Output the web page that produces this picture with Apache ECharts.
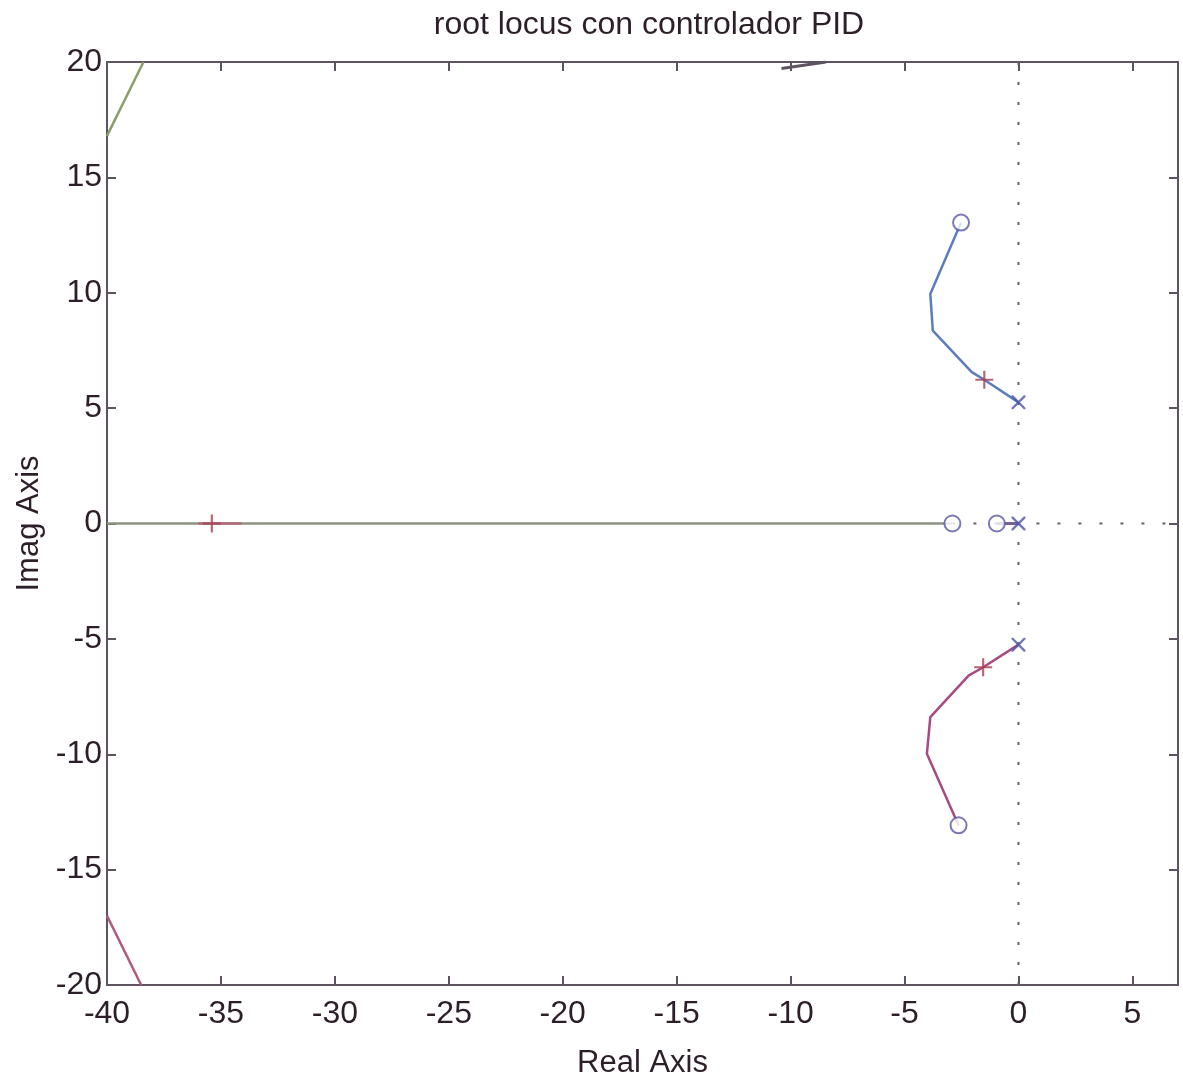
<!DOCTYPE html>
<html><head><meta charset="utf-8">
<script src="https://cdn.jsdelivr.net/npm/echarts@6/dist/echarts.min.js"></script>
<style>html,body{margin:0;padding:0;background:#fff}#c{width:1183px;height:1086px}</style>
</head><body><div id="c"></div>
<script>
// Data
const xTicks = [-40, -35, -30, -25, -20, -15, -10, -5, 0, 5];
const yTicks = [-20, -15, -10, -5, 0, 5, 10, 15, 20];
const upperBranch = [[0, 5.25], [-1.5, 6.23], [-2.05, 6.56], [-3.76, 8.36], [-3.87, 9.95], [-2.52, 13.04]];
const lowerBranch = [[0, -5.25], [-1.55, -6.23], [-2.19, -6.59], [-3.87, -8.39], [-4.02, -9.98], [-2.63, -13.08]];
const realBranchLeft = [[-40, 0], [-2.9, 0]];
const realBranchRedPart = [[-36.0, 0], [-34.1, 0]];
const realBranchRight = [[-0.95, 0], [0, 0]];
const greenFarBranch = [[-40, 16.8], [-38.4, 20]];
const pinkFarBranch = [[-40, -17.0], [-38.5, -20]];
const topEdgeBranch = [[-10.4, 19.72], [-8.45, 20]];
const zerosPts = [[-2.52, 13.04], [-2.63, -13.08], [-2.9, 0], [-0.95, 0]];
const polesPts = [[0, 5.25], [0, -5.25], [0, 0]];
const closedLoopPts = [[-1.5, 6.23], [-1.55, -6.23], [-35.4, 0]];
const vDotted = [[0, -20], [0, 20]];
const hDotted = [[-2.9, 0], [7, 0]];

const FONT = 'Liberation Sans, Arial, sans-serif';
const TXT = '#2d1f2a';
const AX = '#5e5360';
const xPath = 'path://M0,0 L1.2,0 L10,8.8 L10,10 L8.8,10 L0,1.2 Z M10,0 L10,1.2 L1.2,10 L0,10 L0,8.8 L8.8,0 Z';
const plusPath = 'path://M4.4,0 H5.6 V4.4 H10 V5.6 H5.6 V10 H4.4 V5.6 H0 V4.4 H4.4 Z';

const chart = echarts.init(document.getElementById('c'), null, {renderer: 'canvas'});
const axisCommon = {
  type: 'value', splitLine: {show: false},
  axisLine: {show: true, onZero: false, lineStyle: {color: AX, width: 2}},
  axisTick: {show: true, inside: true, length: 9, lineStyle: {color: AX, width: 2}}
};
function line(data, color, width, z, type) {
  return {type: 'line', data: data, symbol: 'none', z: z || 3, silent: true, clip: true,
    lineStyle: {color: color, width: width || 2, type: type || 'solid'}};
}
chart.setOption({
  animation: false,
  backgroundColor: '#ffffff',
  title: {text: 'root locus con controlador PID', left: 644, textAlign: 'center', top: 4,
    textStyle: {fontFamily: FONT, fontSize: 32, fontWeight: 'normal', color: TXT}},
  grid: {left: 107, right: 5, top: 62, bottom: 101, outerBoundsMode: 'none', containLabel: false},
  xAxis: [
    Object.assign({}, axisCommon, {min: -40, max: 7, interval: 5, position: 'bottom',
      name: 'Real Axis', nameLocation: 'middle', nameGap: 63,
      nameTextStyle: {fontFamily: FONT, fontSize: 31, color: TXT},
      axisLabel: {showMaxLabel: false, margin: 13, fontFamily: FONT, fontSize: 32, color: TXT,
        formatter: v => xTicks.includes(v) ? String(v) : ''}}),
    Object.assign({}, axisCommon, {min: -40, max: 7, interval: 5, position: 'top',
      axisLabel: {show: false}})
  ],
  yAxis: [
    Object.assign({}, axisCommon, {min: -20, max: 20, interval: 5, position: 'left',
      name: 'Imag Axis', nameLocation: 'middle', nameGap: 60,
      nameTextStyle: {fontFamily: FONT, fontSize: 31, color: TXT},
      axisLabel: {margin: 5, fontFamily: FONT, fontSize: 32, color: TXT,
        formatter: v => yTicks.includes(v) ? String(v) : ''}}),
    Object.assign({}, axisCommon, {min: -20, max: 20, interval: 5, position: 'right',
      axisLabel: {show: false}})
  ],
  series: [
    line(vDotted, '#6a6068', 2, 1, [3, 17]),
    line(hDotted, '#6a6068', 2, 1, [3, 18]),
    line(realBranchLeft, '#8d9382', 2.5, 2),
    line(realBranchRedPart, '#b46a78', 2.5, 3),
    line(realBranchRight, '#6f6495', 3, 3),
    line(upperBranch, '#5b7dbf', 2.5, 3),
    line(lowerBranch, '#a74a80', 2.5, 3),
    line(greenFarBranch, '#8a9d6a', 2.5, 3),
    line(pinkFarBranch, '#b0587e', 2.5, 3),
    line(topEdgeBranch, '#5e5360', 3, 3),
    {type: 'scatter', data: zerosPts, symbol: 'emptyCircle', symbolSize: 16, z: 5, silent: true,
      itemStyle: {color: '#5a56a6', borderColor: '#5a56a6', borderWidth: 2.5}},
    {type: 'scatter', data: polesPts, symbol: xPath, symbolSize: 14, z: 6, silent: true,
      itemStyle: {color: '#4a56a8'}},
    {type: 'scatter', data: closedLoopPts, symbol: plusPath, symbolSize: 18, z: 6, silent: true,
      itemStyle: {color: '#a83d52'}}
  ]
});
</script>
</body></html>
